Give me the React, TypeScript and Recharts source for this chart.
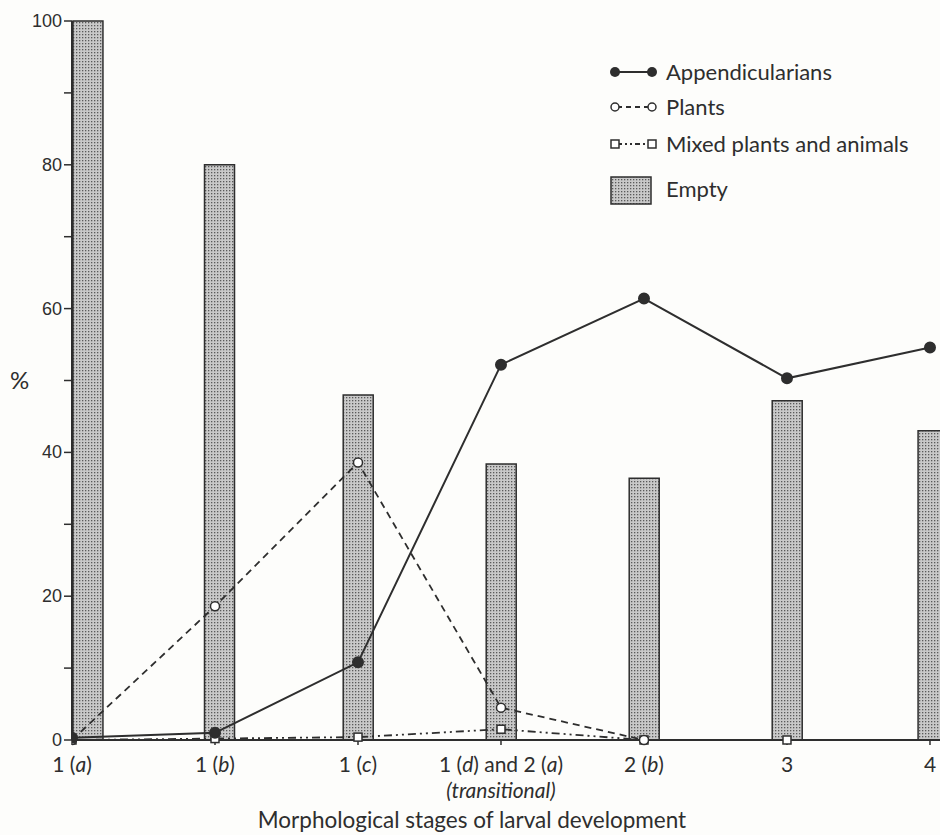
import { ComposedChart, Bar, Line, XAxis, YAxis, Legend } from "recharts";

const stages = ["1 (_a_)", "1 (_b_)", "1 (_c_)", "1 (_d_) and 2 (_a_)", "2 (_b_)", "3", "4"];
const stagePos = [0, 1, 2, 3, 4, 5, 6];
const barPos = [0.11, 1.03, 2, 3, 4, 5, 6.02];
const empty = [100, 80, 48, 38.4, 36.4, 47.2, 43];
const appendicularians = [0.3, 1, 10.8, 52.2, 61.4, 50.3, 54.6];
const plants = [0, 18.6, 38.6, 4.5, 0, null, null];
const mixed = [0, 0.2, 0.4, 1.5, 0, 0, null];

const yTicks = [0, 10, 20, 30, 40, 50, 60, 70, 80, 90, 100];

const INK = "#2e2e2e";
const FONT = "Lato, 'Open Sans', sans-serif";

const data = stages.map((s, i) => ({
  stage: s,
  pos: stagePos[i],
  barPos: barPos[i],
  empty: empty[i],
  appendicularians: appendicularians[i],
  plants: plants[i],
  mixed: mixed[i],
}));

// "_x_" marks italic letters in the stage labels
function renderParts(label: string) {
  return label.split("_").map((part, i) => (
    <tspan key={i} fontStyle={i % 2 === 1 ? "italic" : "normal"}>
      {part}
    </tspan>
  ));
}

const XTick = (props: any) => {
  const { x, y, payload } = props;
  const idx = stagePos.indexOf(payload.value);
  if (idx < 0) return null;
  return (
    <g>
      <text x={x} y={y + 25} textAnchor="middle" fontSize={21} fontFamily={FONT} fill={INK}>
        {renderParts(stages[idx])}
      </text>
      {idx === 3 && (
        <text x={x} y={y + 51} textAnchor="middle" fontSize={21} fontFamily={FONT} fontStyle="italic" fill={INK}>
          (transitional)
        </text>
      )}
    </g>
  );
};

const YTick = (props: any) => {
  const { x, y, payload } = props;
  if (payload.value % 20 !== 0) return null;
  return (
    <text x={x} y={y + 6} textAnchor="end" fontSize={18} fontFamily="'Liberation Sans', Arial, sans-serif" fill={INK}>
      {payload.value}
    </text>
  );
};

const SquareDot = (props: any) => {
  const { cx, cy, value } = props;
  if (value == null || cx == null) return null;
  return <rect x={cx - 4} y={cy - 4} width={8} height={8} fill="#fff" stroke={INK} strokeWidth={1.5} />;
};

const LegendBox = () => {
  const rowText = { fontSize: 22, fontFamily: FONT, fill: INK } as const;
  return (
    <svg width={320} height={160}>
      <line x1={16} y1={17} x2={53} y2={17} stroke={INK} strokeWidth={2} />
      <circle cx={16} cy={17} r={5} fill={INK} />
      <circle cx={53} cy={17} r={5} fill={INK} />
      <text x={67} y={25} {...rowText}>Appendicularians</text>

      <line x1={18} y1={52} x2={51} y2={52} stroke={INK} strokeWidth={1.8} strokeDasharray="5 4" />
      <circle cx={16} cy={52} r={4} fill="#fff" stroke={INK} strokeWidth={1.5} />
      <circle cx={53} cy={52} r={4} fill="#fff" stroke={INK} strokeWidth={1.5} />
      <text x={67} y={60} {...rowText}>Plants</text>

      <line x1={18} y1={89} x2={51} y2={89} stroke={INK} strokeWidth={1.8} strokeDasharray="5 3 2 3 2 3" />
      <rect x={12} y={85} width={8} height={8} fill="#fff" stroke={INK} strokeWidth={1.5} />
      <rect x={49} y={85} width={8} height={8} fill="#fff" stroke={INK} strokeWidth={1.5} />
      <text x={67} y={97} {...rowText}>Mixed plants and animals</text>

      <rect x={12} y={122} width={40} height={27} fill="url(#stipple)" stroke={INK} strokeWidth={1.5} />
      <text x={67} y={142} {...rowText}>Empty</text>
    </svg>
  );
};

export default function App() {
  return (
    <div style={{ position: "absolute", left: 0, top: 0, width: 940, height: 835, background: "#fdfdfb" }}>
      <svg width={0} height={0} style={{ position: "absolute" }}>
        <defs>
          <pattern id="stipple" width={3} height={3} patternUnits="userSpaceOnUse">
            <rect width={3} height={3} fill="#c9c9c9" />
            <rect x={1} y={1} width={1.3} height={1.3} fill="#5a5a5a" />
          </pattern>
        </defs>
      </svg>
      <ComposedChart width={940} height={835} data={data} margin={{ top: 21, right: 0, left: 0, bottom: 0 }}>
        <XAxis
          xAxisId="line"
          dataKey="pos"
          type="number"
          domain={[0, 6.07]}
          ticks={stagePos}
          tick={<XTick />}
          height={95}
          tickSize={5}
          axisLine={{ stroke: INK, strokeWidth: 2 }}
          tickLine={{ stroke: INK, strokeWidth: 1.5 }}
          allowDataOverflow
          label={{
            content: () => (
              <text x={472} y={828} textAnchor="middle" fontSize={22.5} fontFamily={FONT} fill={INK}>
                Morphological stages of larval development
              </text>
            ),
          }}
        />
        <XAxis xAxisId="bar" dataKey="barPos" type="number" domain={[0, 6.07]} hide height={0} allowDataOverflow />
        <YAxis
          dataKey="empty"
          domain={[0, 100]}
          ticks={yTicks}
          width={72}
          tick={<YTick />}
          tickSize={8}
          tickMargin={2}
          axisLine={{ stroke: INK, strokeWidth: 2 }}
          tickLine={{ stroke: INK, strokeWidth: 1.5 }}
          label={{ value: "%", position: "insideLeft", offset: 10, style: { fontSize: 24, fontFamily: FONT, fill: INK } }}
        />
        <Legend
          layout="vertical"
          align="center"
          verticalAlign="middle"
          content={<LegendBox />}
          wrapperStyle={{ position: "absolute", left: 599, top: 55, width: 320, height: 160 }}
        />
        <Bar
          xAxisId="bar"
          dataKey="empty"
          barSize={30}
          fill="url(#stipple)"
          stroke={INK}
          strokeWidth={1.5}
          isAnimationActive={false}
        />
        <Line
          xAxisId="line"
          dataKey="mixed"
          stroke={INK}
          strokeWidth={1.8}
          strokeDasharray="8 4 2 4 2 4"
          dot={<SquareDot />}
          isAnimationActive={false}
        />
        <Line
          xAxisId="line"
          dataKey="plants"
          stroke={INK}
          strokeWidth={1.8}
          strokeDasharray="7 5"
          dot={{ r: 4.5, fill: "#fff", stroke: INK, strokeWidth: 1.5, strokeDasharray: "" }}
          isAnimationActive={false}
        />
        <Line
          xAxisId="line"
          dataKey="appendicularians"
          stroke={INK}
          strokeWidth={2}
          dot={{ r: 5, fill: INK, stroke: INK }}
          isAnimationActive={false}
        />
      </ComposedChart>
    </div>
  );
}
